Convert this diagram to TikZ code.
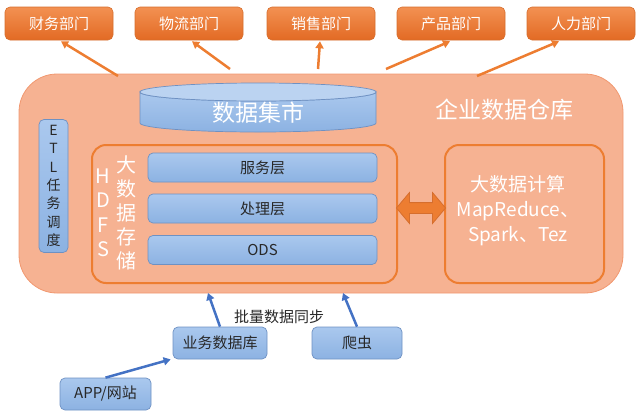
\documentclass[tikz,border=0pt]{standalone}
\usepackage{fontspec}
\setmainfont{Noto Sans CJK SC}
\usetikzlibrary{shapes.geometric,shapes.arrows,arrows.meta,calc}
\definecolor{orgtop}{RGB}{243,145,82}
\definecolor{orgbot}{RGB}{226,106,36}
\definecolor{orgline}{RGB}{237,125,49}
\definecolor{orgdark}{RGB}{214,110,45}
\definecolor{mainfill}{RGB}{246,178,146}
\definecolor{mainline}{RGB}{241,152,112}
\definecolor{bluetop}{RGB}{170,200,238}
\definecolor{bluebot}{RGB}{140,178,226}
\definecolor{blueline}{RGB}{110,145,195}
\definecolor{bluearr}{RGB}{68,114,196}
\definecolor{txt}{RGB}{40,40,40}
\tikzset{
  dept/.style={rounded corners=5pt, draw=orgdark, line width=0.6pt, top color=orgtop, bottom color=orgbot,
    text=white, minimum width=108pt, minimum height=33pt, inner sep=0pt, font=\fontsize{15}{18}\selectfont},
  bluebox/.style={rounded corners=5pt, draw=blueline, line width=0.7pt, top color=bluetop, bottom color=bluebot,
    text=txt, inner sep=0pt, font=\fontsize{15}{18}\selectfont},
  orgframe/.style={rounded corners=14pt, draw=orgline, line width=2pt, fill=mainfill, inner sep=0pt},
  uparr/.style={draw=orgline, line width=2.5pt, -{Triangle[length=7pt,width=8pt]}},
  bluearrow/.style={draw=bluearr, line width=2.5pt, -{Triangle[length=7pt,width=8pt]}},
}
\begin{document}
\begin{tikzpicture}[x=1pt,y=-1pt]
\useasboundingbox (0,0) rectangle (640,413);
% departments
\node[dept] (d1) at (59,23.5) {财务部门};
\node[dept] (d2) at (189,23.5) {物流部门};
\node[dept] (d3) at (321,23.5) {销售部门};
\node[dept] (d4) at (451,23.5) {产品部门};
\node[dept] (d5) at (581,23.5) {人力部门};
% main warehouse
\node[draw=mainline, line width=0.8pt, fill=mainfill, rounded corners=38pt, minimum width=604pt, minimum height=219pt, inner sep=0pt] (dw) at (321,183.5) {};
\node[text=white, font=\fontsize{23}{26}\selectfont, inner sep=0pt] (dwt) at (504,110) {企业数据仓库};
% cylinder
\path[draw=blueline, line width=0.7pt, top color=bluetop, bottom color=bluebot]
  (140,92) -- (140,123) arc[start angle=180, end angle=360, x radius=118pt, y radius=9pt] -- (376,92)
  arc[start angle=0, end angle=-180, x radius=118pt, y radius=9pt] -- cycle;
\path[draw=blueline, line width=0.7pt, fill=bluetop!80!white]
  (258,92) ellipse[x radius=118pt, y radius=9pt];
\node[text=white, font=\fontsize{23}{26}\selectfont, inner sep=0pt] (mart) at (258,113) {数据集市};
% ETL
\node[bluebox, minimum width=29pt, minimum height=133pt, align=center, font=\fontsize{14}{18.3}\selectfont] (etl) at (53.5,186) {E\\T\\L\\任\\务\\调\\度};
% HDFS frame
\node[orgframe, minimum width=305pt, minimum height=138pt] (hdfs) at (244.5,214) {};
\node[text=white, align=center, inner sep=0pt, font=\fontsize{20}{24.5}\selectfont] (hl) at (103,213) {H\\D\\F\\S};
\node[text=white, align=center, inner sep=0pt, font=\fontsize{20}{24}\selectfont] (hr) at (126,212.5) {大\\数\\据\\存\\储};
\node[bluebox, minimum width=229pt, minimum height=29pt] (l1) at (262.5,167.5) {服务层};
\node[bluebox, minimum width=229pt, minimum height=29pt] (l2) at (262.5,208.5) {处理层};
\node[bluebox, minimum width=229pt, minimum height=29pt] (l3) at (262.5,250) {ODS};
% compute
\node[orgframe, minimum width=159pt, minimum height=138pt] (comp) at (524.5,214) {};
\node[text=white, align=center, inner sep=0pt, font=\fontsize{19}{25}\selectfont] (compt) at (518,211) {大数据计算\\MapReduce、\\Spark、Tez};
% double arrow
\node[double arrow, draw=orgdark, line width=0.8pt, fill=orgline, minimum height=49pt, minimum width=30pt,
  double arrow head extend=10pt, inner sep=5pt, double arrow tip angle=100] (bi) at (421,208) {};
% bottom sources
\node[bluebox, minimum width=94pt, minimum height=32pt] (biz) at (220,343) {业务数据库};
\node[bluebox, minimum width=90pt, minimum height=32pt] (crawl) at (357,343) {爬虫};
\node[bluebox, minimum width=91pt, minimum height=32pt] (app) at (105.5,394) {APP/网站};
\node[text=txt, inner sep=0pt, font=\fontsize{15}{18}\selectfont] (sync) at (279,317) {批量数据同步};
% arrow start/end points
\coordinate (s1) at (118,76);
\coordinate (s2) at (230,69);
\coordinate (s3) at (318,69);
\coordinate (s4) at (386,69);
\coordinate (s5) at (477,76);
\coordinate (b1) at (208,293);
\coordinate (b2) at (343,293);
\draw[uparr] (s1) -- ($(d1.south)+(2,1)$);
\draw[uparr] (s2) -- ($(d2.south)+(3,1)$);
\draw[uparr] (s3) -- ($(d3.south)+(-1,1)$);
\draw[uparr] (s4) -- ($(d4.south)+(-1,1)$);
\draw[uparr] (s5) -- ($(d5.south)+(-22,1)$);
\draw[bluearrow] (biz.north) -- (b1);
\draw[bluearrow] (crawl.north) -- (b2);
\draw[bluearrow] (app.north) -- ($(biz.south west)+(-2,0)$);
\end{tikzpicture}
\end{document}
